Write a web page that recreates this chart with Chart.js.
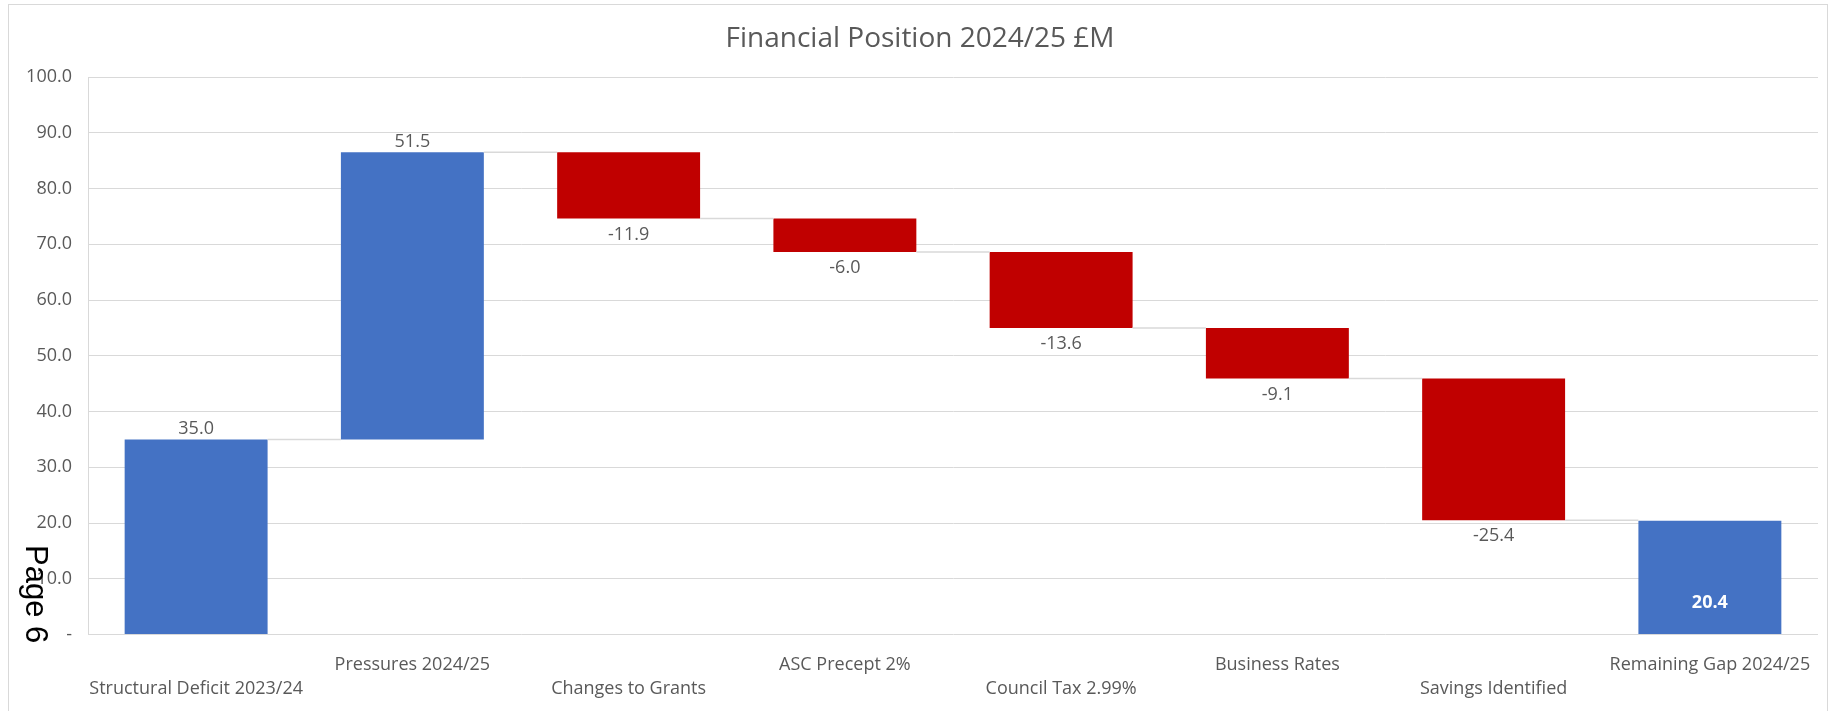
<!DOCTYPE html>
<html>
<head>
<meta charset="utf-8">
<script src="https://cdn.jsdelivr.net/npm/chart.js@4.4.1/dist/chart.umd.min.js"></script>
<style>
  html, body { margin: 0; padding: 0; background: #ffffff; }
  #wrap { position: relative; width: 1833px; height: 711px; }
</style>
</head>
<body>
<div id="wrap"><canvas id="c"></canvas></div>
<script>
// ---- data ----
const chartTitle = 'Financial Position 2024/25 £M';
const categories = [
  'Structural Deficit 2023/24',
  'Pressures 2024/25',
  'Changes to Grants',
  'ASC Precept 2%',
  'Council Tax 2.99%',
  'Business Rates',
  'Savings Identified',
  'Remaining Gap 2024/25'
];
const changes = [35.0, 51.5, -11.9, -6.0, -13.6, -9.1, -25.4, 20.4];
const barKinds = ['start', 'increase', 'decrease', 'decrease', 'decrease', 'decrease', 'decrease', 'total'];
const yTickValues = [0, 10, 20, 30, 40, 50, 60, 70, 80, 90, 100];
const yTickLabels = ['-', '10.0', '20.0', '30.0', '40.0', '50.0', '60.0', '70.0', '80.0', '90.0', '100.0'];
const pageMark = 'Page 6';

// ---- build waterfall ranges from the values ----
let running = 0;
const floating = [];
const levels = [];
changes.forEach((v, i) => {
  const kind = barKinds[i];
  if (kind === 'start') { running = v; floating.push([0, v]); levels.push(v); }
  else if (kind === 'total') { floating.push([0, v]); levels.push(v); }
  else { const from = running; running = +(running + v).toFixed(1); floating.push([from, running]); levels.push(running); }
});
const BLUE = '#4472C4', RED = '#C00000', TEXT = '#595959', GRID = '#d9d9d9';
const colors = barKinds.map(k => k === 'decrease' ? RED : BLUE);
// staggered category labels (Excel alternates rows)
const axisLabels = categories.map((c, i) => i % 2 === 0 ? ['', c] : [c]);

const FONT = "'Open Sans', 'Noto Sans', sans-serif";

const decor = {
  id: 'decor',
  beforeDraw(chart) {
    const ctx = chart.ctx;
    ctx.save();
    ctx.strokeStyle = GRID;
    ctx.lineWidth = 1;
    ctx.strokeRect(8.5, 4.5, 1819, 720);
    ctx.restore();
  },
  afterDatasetsDraw(chart) {
    const ctx = chart.ctx;
    const ys = chart.scales.y;
    const meta = chart.getDatasetMeta(0);
    ctx.save();
    // connectors
    ctx.strokeStyle = GRID;
    ctx.lineWidth = 1.5;
    for (let i = 0; i < meta.data.length - 1; i++) {
      const a = meta.data[i], b = meta.data[i + 1];
      const y = ys.getPixelForValue(levels[i]);
      ctx.beginPath();
      ctx.moveTo(a.x + a.width / 2, y);
      ctx.lineTo(b.x - b.width / 2, y);
      ctx.stroke();
    }
    // value labels
    ctx.textAlign = 'center';
    ctx.textBaseline = 'alphabetic';
    meta.data.forEach((el, i) => {
      const kind = barKinds[i];
      const r = floating[i];
      const hi = ys.getPixelForValue(Math.max(r[0], r[1]));
      const lo = ys.getPixelForValue(Math.min(r[0], r[1]));
      const txt = changes[i].toFixed(1);
      if (kind === 'total') {
        ctx.font = "bold 18px " + FONT;
        ctx.fillStyle = '#ffffff';
        ctx.fillText(txt, el.x, lo - 27);
      } else if (kind === 'decrease') {
        ctx.font = "18px " + FONT;
        ctx.fillStyle = TEXT;
        ctx.fillText(txt, el.x, lo + 21);
      } else {
        ctx.font = "18px " + FONT;
        ctx.fillStyle = TEXT;
        ctx.fillText(txt, el.x, hi - 5);
      }
    });
    ctx.restore();
  },
  afterDraw(chart) {
    const ctx = chart.ctx;
    ctx.save();
    // title
    ctx.font = "28px " + FONT;
    ctx.fillStyle = TEXT;
    ctx.textAlign = 'center';
    ctx.textBaseline = 'alphabetic';
    ctx.fillText(chartTitle, 920, 46.5);
    // page marker overlay (rotated)
    ctx.translate(26, 545);
    ctx.rotate(Math.PI / 2);
    ctx.font = "31px 'Liberation Sans', Arial, sans-serif";
    ctx.fillStyle = '#000000';
    ctx.textAlign = 'left';
    ctx.fillText(pageMark, 0, 0);
    ctx.restore();
  }
};

new Chart(document.getElementById('c'), {
  type: 'bar',
  data: {
    labels: axisLabels,
    datasets: [{
      data: floating,
      backgroundColor: colors,
      borderWidth: 0,
      categoryPercentage: 1.0,
      barPercentage: 0.661
    }]
  },
  options: {
    responsive: true,
    maintainAspectRatio: false,
    animation: false,
    devicePixelRatio: 1,
    layout: { padding: { left: 0, right: 15, top: 77, bottom: 0 } },
    plugins: { legend: { display: false }, tooltip: { enabled: false }, title: { display: false } },
    scales: {
      x: {
        grid: { display: false, drawTicks: false },
        border: { display: false },
        ticks: {
          autoSkip: false, maxRotation: 0, minRotation: 0,
          padding: 18,
          color: TEXT,
          font: { family: FONT, size: 18, lineHeight: 1.35 }
        },
        afterFit(s) { s.height = 711 - 634.5; s.paddingLeft = 0; s.paddingRight = 0; }
      },
      y: {
        min: 0, max: 100,
        afterBuildTicks(s) { s.ticks = yTickValues.map(v => ({ value: v })); },
        grid: { color: GRID, lineWidth: 1, drawTicks: false },
        border: { display: true, color: GRID, width: 1 },
        ticks: {
          padding: 16,
          color: TEXT,
          font: { family: FONT, size: 18 },
          callback(v) { const k = yTickValues.indexOf(v); return k >= 0 ? yTickLabels[k] : ''; }
        },
        afterFit(s) { s.width = 88; s.paddingTop = 0; s.paddingBottom = 0; }
      }
    }
  },
  plugins: [decor]
});
</script>
</body>
</html>
